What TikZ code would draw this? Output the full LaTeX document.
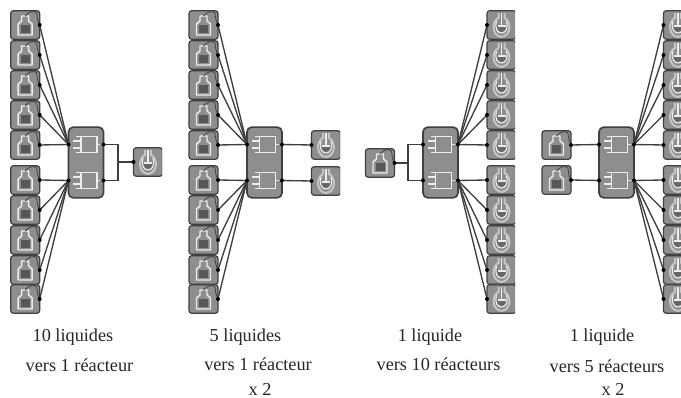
\documentclass[tikz,border=0pt]{standalone}
\usepackage{fontspec}
\setmainfont{Liberation Serif}
\definecolor{boxfill}{HTML}{8E8E8E}
\definecolor{boxedge}{HTML}{404040}
\definecolor{iconline}{HTML}{EDEDED}
\definecolor{jacket}{HTML}{C6C6C6}
\definecolor{wirecol}{HTML}{3E3E3E}
\tikzset{
  x=0.75pt,y=-0.75pt,
  unitbox/.style={draw=boxedge,fill=boxfill,line width=0.9pt,rounded corners=2pt,minimum width=21.75pt,minimum height=21.4pt,inner sep=0pt,outer sep=0pt},
  mixbox/.style={draw=boxedge,fill=boxfill,line width=1.2pt,rounded corners=3.5pt,minimum width=26.2pt,minimum height=53pt,inner sep=0pt,outer sep=0pt},
  wire/.style={draw=wirecol,line width=1pt},
  icon/.style={draw=iconline,line width=1.1pt,line join=round},
  captext/.style={font=\fontsize{13.7pt}{15pt}\selectfont,text=black!85,inner sep=0pt,anchor=base},
}
\newcommand{\portdot}[1]{\fill[black] (#1) circle (2);}
% bottle box: name, x, y
\newcommand{\bottle}[3]{%
  \node[unitbox] (#1) at (#2,#3) {};
  \begin{scope}[shift={(#2,#3)}]
    \fill[black!66] (-4.5,0.5) rectangle (4.5,8.5);
    \draw[icon] (-3.5,-9) -- (3.5,-9) -- (3.5,-4) -- (7,-1) -- (7,10) -- (-7,10) -- (-7,-1) -- (-3.5,-4) -- cycle;
    \draw[boxedge,line width=0.6pt] (0,-9) .. controls (3,-13) and (9,-15) .. (11.5,-12) .. controls (12,-8) and (12,-4) .. (14.7,0);
  \end{scope}}
% reactor box: name, x, y
\newcommand{\reactor}[3]{%
  \node[unitbox] (#1) at (#2,#3) {};
  \begin{scope}[shift={(#2,#3)}]
    \draw[icon,draw=jacket,line width=1.5pt] (-3,-12) -- (-3,-7) .. controls (-10,-4) and (-10,11) .. (0,12) .. controls (10,11) and (10,-4) .. (3,-7) -- (3,-12);
    \fill[black!60] (-4.5,0) -- (4.5,0) .. controls (4.5,5) and (2,7) .. (0,7) .. controls (-2,7) and (-4.5,5) .. (-4.5,0) -- cycle;
    \draw[icon,line width=0.8pt] (-5,-4) .. controls (-7,4) and (-4,8) .. (0,8) .. controls (4,8) and (7,4) .. (5,-4);
    \draw[icon,line width=0.8pt] (0,-12) -- (0,1) (-4,1) -- (4,1);
  \end{scope}}
% mixer: name, x, y
\newcommand{\mixer}[3]{%
  \node[mixbox] (#1) at (#2,#3) {};
  \foreach \yy/\tg in {-18/a,18/b}{
    \coordinate (#1in\tg) at (#2-17.5,#3+\yy);
    \coordinate (#1out\tg) at (#2+17.5,#3+\yy);
    \begin{scope}[shift={(#2,#3+\yy)}]
      \draw[icon,line width=1.3pt] (-10,-8) -- (11,-8) -- (11,8) -- (-10,8) (-5,-8) -- (-5,8) (-13,-3.5) -- (-5,-3.5) (-13,3.5) -- (-5,3.5);
      \draw[icon,line width=0.7pt] (11,0) -- (14,0);
    \end{scope}}}
\begin{document}
\begin{tikzpicture}
\useasboundingbox (0,0) rectangle (681,398);
\fill[white] (0,0) rectangle (681,398);
% ---- panel 1: ten liquids to one reactor
\foreach \n/\yy in {1/25,2/55,3/85,4/115,5/145,6/180,7/210,8/240,9/270,10/299}{\bottle{pa\n}{25.2}{\yy}}
\mixer{ma}{86}{162.5}
\begin{scope}
  \clip (0,0) rectangle (162,398);
  \reactor{ra}{148}{162}
\end{scope}
\foreach \n in {1,...,5}{\draw[wire] (pa\n.east) -- (maina);\portdot{pa\n.east}}
\foreach \n in {6,...,10}{\draw[wire] (pa\n.east) -- (mainb);\portdot{pa\n.east}}
\coordinate (ja) at (118,162);
\draw[wire] (maouta) -| (ja) (maoutb) -| (ja) (ja) -- (ra.west);
\foreach \c in {maina,mainb,maouta,maoutb,ra.west}{\portdot{\c}}
% ---- panel 2: five liquids to one reactor, twice
\foreach \n/\yy in {1/25,2/55,3/85,4/115,5/145,6/180,7/210,8/240,9/270,10/299}{\bottle{pb\n}{203.5}{\yy}}
\mixer{mb}{264.5}{162.5}
\begin{scope}
  \clip (0,0) rectangle (340,398);
  \reactor{rb1}{326}{145}
  \reactor{rb2}{326}{181}
\end{scope}
\foreach \n in {1,...,5}{\draw[wire] (pb\n.east) -- (mbina);\portdot{pb\n.east}}
\foreach \n in {6,...,10}{\draw[wire] (pb\n.east) -- (mbinb);\portdot{pb\n.east}}
\draw[wire] (mbouta) -- (rb1.west) (mboutb) -- (rb2.west);
\foreach \c in {mbina,mbinb,mbouta,mboutb,rb1.west,rb2.west}{\portdot{\c}}
% ---- panel 3: one liquid to ten reactors
\bottle{pc}{380}{163}
\mixer{mc}{440.5}{162.5}
\begin{scope}
  \clip (0,0) rectangle (515,398);
  \foreach \n/\yy in {1/25,2/55,3/85,4/115,5/145,6/180,7/210,8/240,9/270,10/299}{\reactor{rc\n}{501.5}{\yy}}
\end{scope}
\coordinate (jc) at (408,163);
\draw[wire] (pc.east) -- (jc) (mcina) -| (jc) (mcinb) -| (jc);
\foreach \n in {1,...,5}{\draw[wire] (mcouta) -- (rc\n.west);\portdot{rc\n.west}}
\foreach \n in {6,...,10}{\draw[wire] (mcoutb) -- (rc\n.west);\portdot{rc\n.west}}
\foreach \c in {pc.east,mcina,mcinb,mcouta,mcoutb}{\portdot{\c}}
% ---- panel 4: one liquid to five reactors, twice
\bottle{pd1}{556.5}{145}
\bottle{pd2}{556.5}{180}
\mixer{md}{616.5}{162.5}
\begin{scope}
  \clip (0,0) rectangle (681,398);
  \foreach \n/\yy in {1/25,2/55,3/85,4/115,5/145,6/180,7/210,8/240,9/270,10/299}{\reactor{rd\n}{678}{\yy}}
\end{scope}
\draw[wire] (pd1.east) -- (mdina) (pd2.east) -- (mdinb);
\foreach \n in {1,...,5}{\draw[wire] (mdouta) -- (rd\n.west);\portdot{rd\n.west}}
\foreach \n in {6,...,10}{\draw[wire] (mdoutb) -- (rd\n.west);\portdot{rd\n.west}}
\foreach \c in {pd1.east,pd2.east,mdina,mdinb,mdouta,mdoutb}{\portdot{\c}}
% ---- captions
\node[captext] (t1) at (73,342) {10 liquides};
\node[captext] (t2) at (79.5,372) {vers 1 réacteur};
\node[captext] (t3) at (245.5,342) {5 liquides};
\node[captext] (t4) at (258,371) {vers 1 réacteur};
\node[captext] (t5) at (260,395.5) {x 2};
\node[captext] (t6) at (430,342) {1 liquide};
\node[captext] (t7) at (438.5,371) {vers 10 réacteurs};
\node[captext] (t8) at (602,342) {1 liquide};
\node[captext] (t9) at (607,373) {vers 5 réacteurs};
\node[captext] (t10) at (613,395.5) {x 2};
\end{tikzpicture}
\end{document}
